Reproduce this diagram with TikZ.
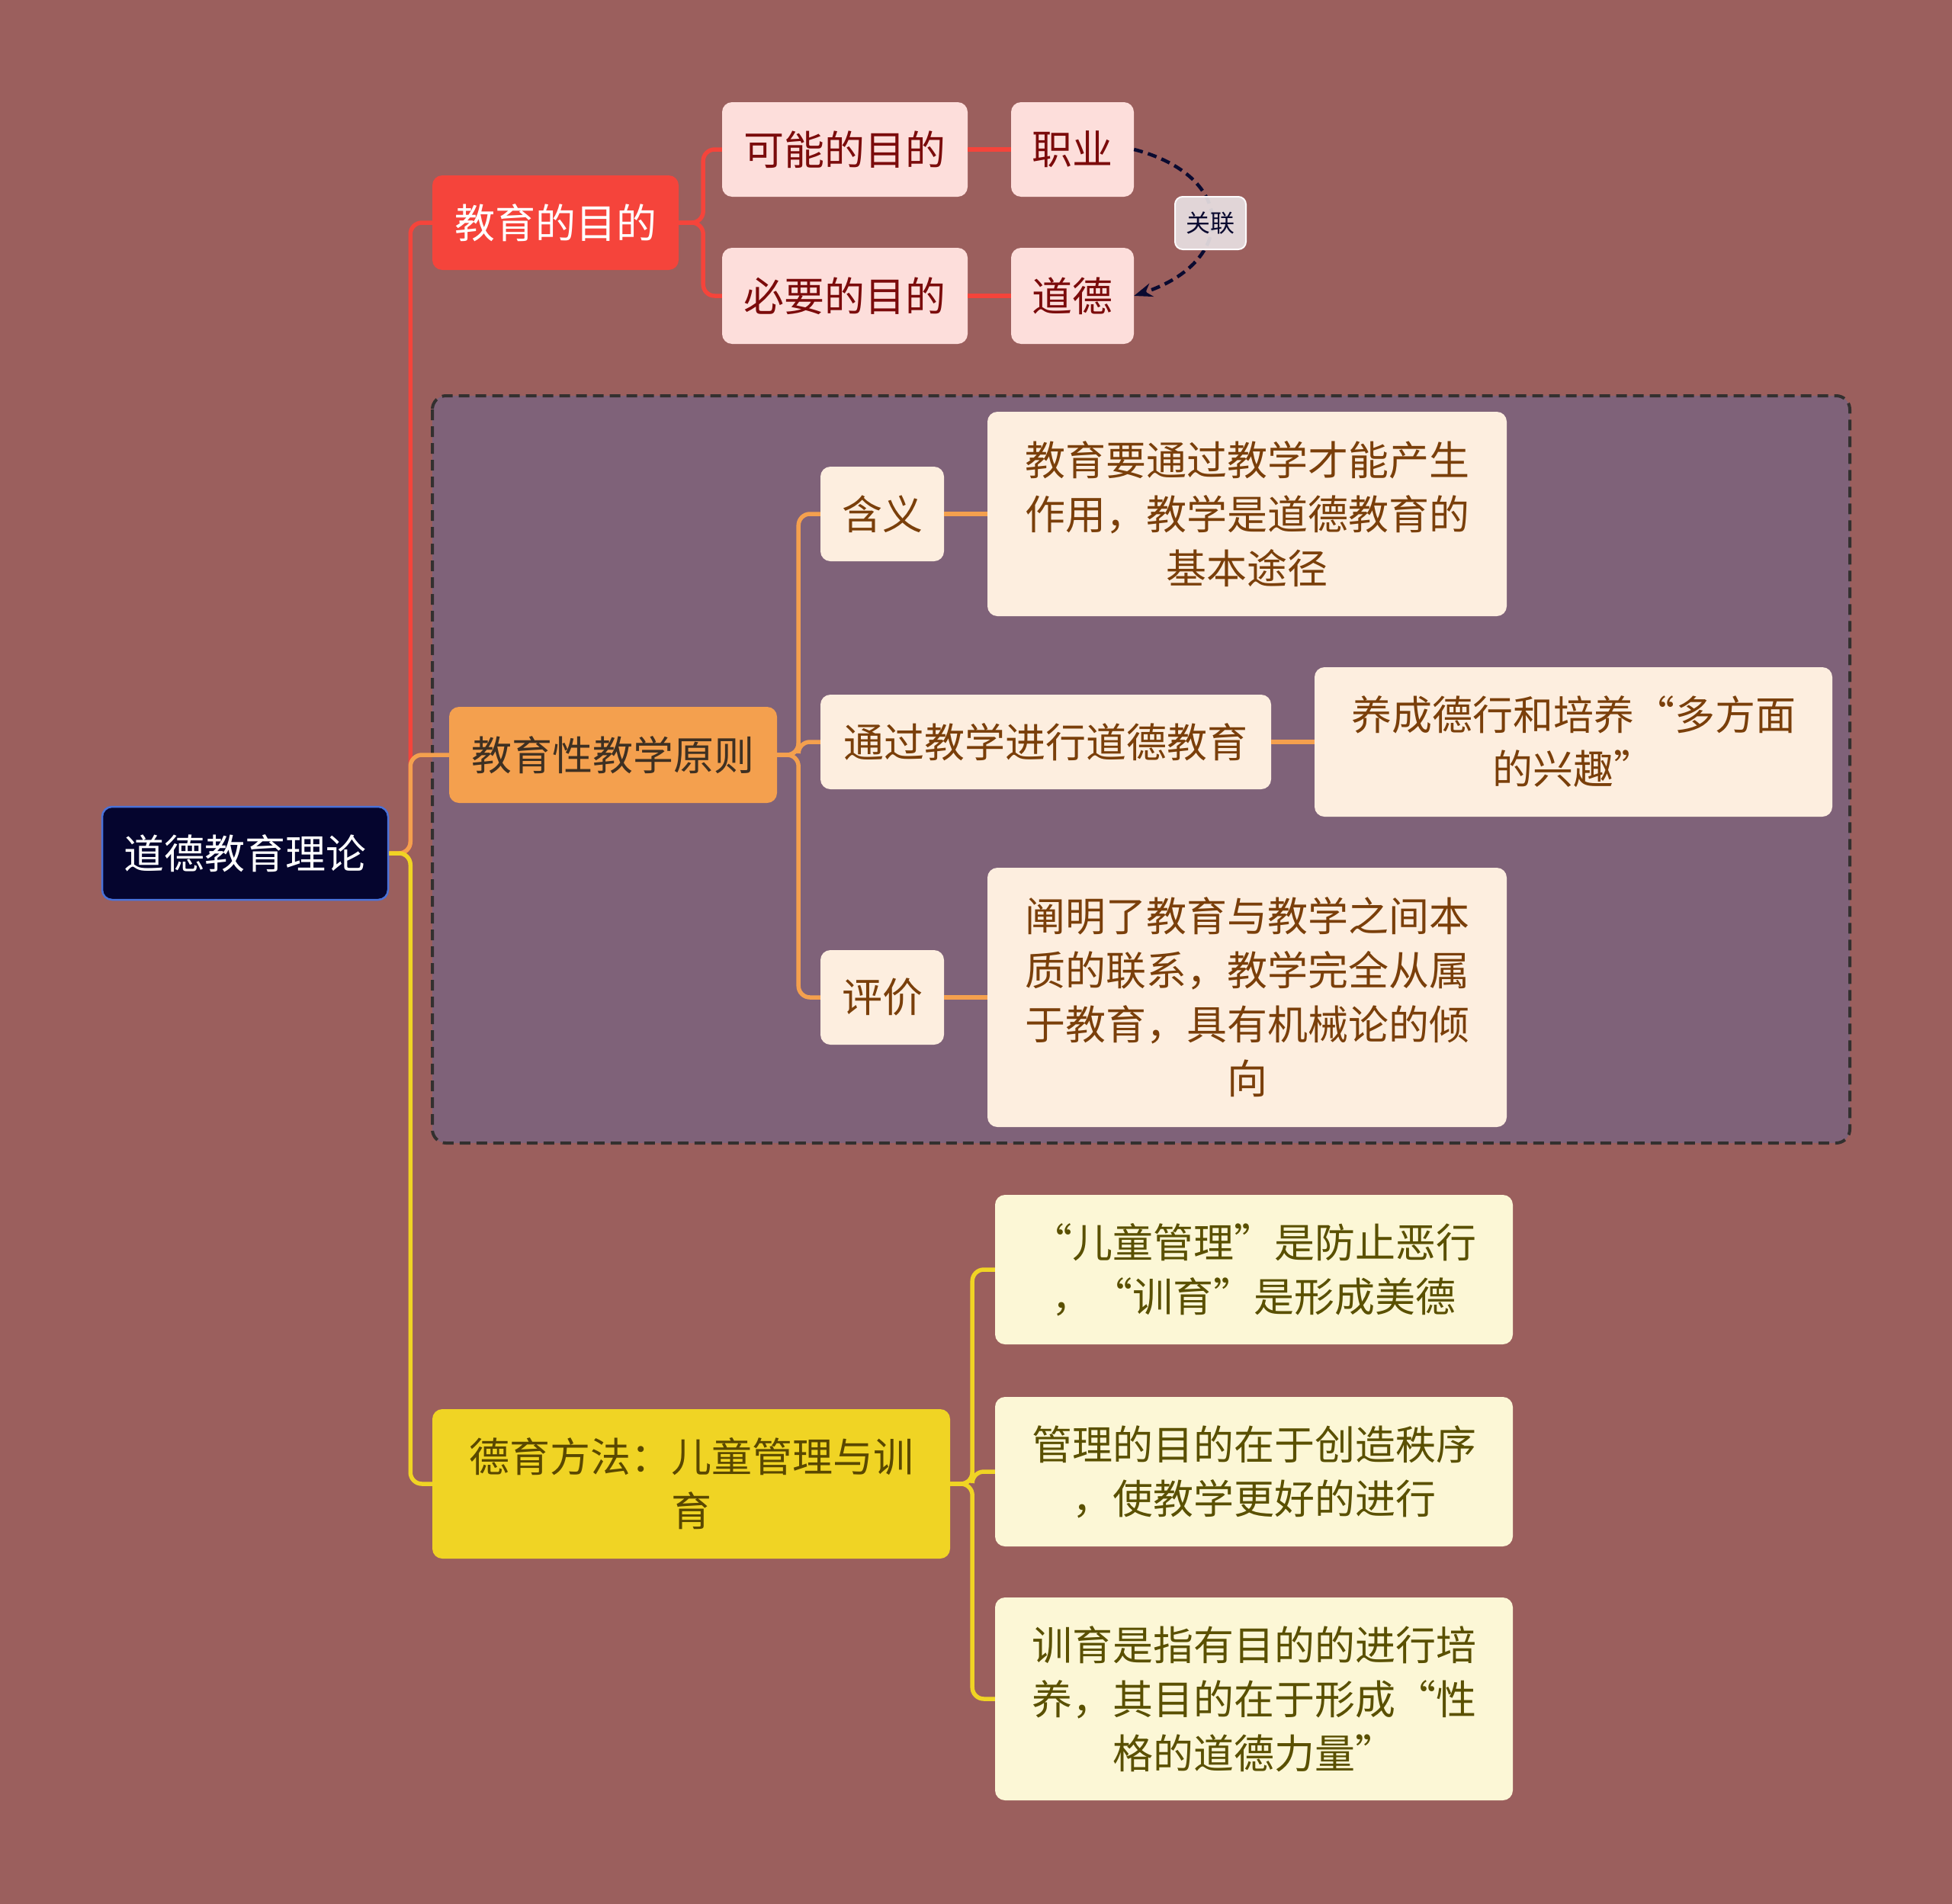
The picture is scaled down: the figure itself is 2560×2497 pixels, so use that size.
\documentclass[tikz,border=0pt]{standalone}
\usepackage{fontspec}
\setmainfont{Noto Sans CJK SC}
\usetikzlibrary{arrows.meta}
\definecolor{bg}{HTML}{9B5F5D}
\definecolor{grp}{HTML}{7F6279}
\definecolor{grpline}{HTML}{33302F}
\definecolor{rootfill}{HTML}{05052E}
\definecolor{rootline}{HTML}{4A72D9}
\definecolor{red1}{HTML}{F5443B}
\definecolor{pink1}{HTML}{FDDEDB}
\definecolor{redtext}{HTML}{7B0B0B}
\definecolor{orange1}{HTML}{F4A04E}
\definecolor{orangetext}{HTML}{3E3022}
\definecolor{cream1}{HTML}{FDEEDF}
\definecolor{browntext}{HTML}{7A3F0A}
\definecolor{yellow1}{HTML}{F0D424}
\definecolor{yellowtext}{HTML}{5A4800}
\definecolor{lyellow}{HTML}{FCF7D6}
\definecolor{olivetext}{HTML}{5A5000}
\definecolor{navy}{HTML}{0A0A30}
\definecolor{lblfill}{HTML}{E8E0E2}
\begin{document}
\begin{tikzpicture}[x=1pt,y=-1pt,
  sz/.style 2 args={minimum width=#1pt, minimum height=#2pt},
  box/.style={rounded corners=13pt, inner sep=0pt, align=center,
    font=\fontsize{53}{71}\selectfont},
  rootbox/.style={box, fill=rootfill, draw=rootline, line width=2.5pt, text=white},
  redbox/.style={box, fill=red1, text=white},
  pinkbox/.style={box, fill=pink1, text=redtext},
  orangebox/.style={box, fill=orange1, text=orangetext},
  creambox/.style={box, fill=cream1, text=browntext},
  yellowbox/.style={box, fill=yellow1, text=yellowtext},
  lyellowbox/.style={box, fill=lyellow, text=olivetext},
  conn/.style={line width=5.5pt, rounded corners=15pt},
  redconn/.style={conn, draw=red1},
  orangeconn/.style={conn, draw=orange1},
  yellowconn/.style={conn, draw=yellow1},
  relline/.style={draw=navy, line width=4.5pt, dash pattern=on 12pt off 7pt,
    -{Stealth[length=24pt,width=18pt]}},
  lbl/.style={rounded corners=10pt, fill=lblfill, fill opacity=0.92, text opacity=1,
    draw=white!85!lblfill, line width=2pt, text=navy, inner sep=0pt,
    font=\fontsize{32}{40}\selectfont}
]
\useasboundingbox (0,0) rectangle (2560,2497);
\fill[bg] (0,0) rectangle (2560,2497);

% group frame
\draw[fill=grp, draw=grpline, line width=4pt, dash pattern=on 14pt off 8pt, rounded corners=18pt]
  (567,519) rectangle (2426,1499);

% nodes
\node[rootbox, sz={375}{122}] (root) at (321.5,1119) {道德教育理论};

\node[redbox, sz={323}{124}] (goal) at (728.5,292) {教育的目的};
\node[pinkbox, sz={322}{124}] (poss) at (1108,196) {可能的目的};
\node[pinkbox, sz={161}{124}] (job) at (1406.5,196) {职业};
\node[pinkbox, sz={322}{126}] (nec) at (1108,388) {必要的目的};
\node[pinkbox, sz={161}{126}] (moral) at (1406.5,388) {道德};

\node[orangebox, sz={430}{126}] (prin) at (804,990) {教育性教学原则};
\node[creambox, sz={162}{124}] (mean) at (1157,674) {含义};
\node[creambox, sz={681}{268}] (meant) at (1635.5,674) {教育要通过教学才能产生\\作用，教学是道德教育的\\基本途径};
\node[creambox, sz={591}{124}] (via) at (1371.5,973) {通过教学进行道德教育};
\node[creambox, sz={679}{196}] (viat) at (2063.5,973) {养成德行和培养“多方面\\的兴趣”};
\node[creambox, sz={162}{124}] (eval) at (1157,1308) {评价};
\node[creambox, sz={681}{340}] (evalt) at (1635.5,1308) {阐明了教育与教学之间本\\质的联系，教学完全从属\\于教育，具有机械论的倾\\向};

\node[yellowbox, sz={679}{196}] (meth) at (906.5,1946) {德育方法：儿童管理与训\\育};
\node[lyellowbox, sz={679}{196}] (m1) at (1644.5,1665) {“儿童管理”是防止恶行\\，“训育”是形成美德};
\node[lyellowbox, sz={679}{196}] (m2) at (1644.5,1930) {管理的目的在于创造秩序\\，使教学更好的进行};
\node[lyellowbox, sz={679}{266}] (m3) at (1644.5,2228) {训育是指有目的的进行培\\养，其目的在于形成“性\\格的道德力量”};

% connectors from root
\draw[redconn] (root.east) -- ++(28,0) |- (goal.west);
\draw[orangeconn] (root.east) -- ++(28,0) |- (prin.west);
\draw[yellowconn] (root.east) -- ++(28,0) |- (meth.west);

% goal children
\draw[redconn] (goal.east) -- ++(32,0) |- (poss.west);
\draw[redconn] (goal.east) -- ++(32,0) |- (nec.west);
\draw[redconn] (poss.east) -- (job.west);
\draw[redconn] (nec.east) -- (moral.west);

% principle children
\draw[orangeconn] (prin.east) -- ++(28,0) |- (mean.west);
\draw[orangeconn] (prin.east) -- ++(28,0) |- (via.west);
\draw[orangeconn] (prin.east) -- ++(28,0) |- (eval.west);
\draw[orangeconn] (mean.east) -- (meant.west);
\draw[orangeconn] (via.east) -- (viat.west);
\draw[orangeconn] (eval.east) -- (evalt.west);

% method children
\draw[yellowconn] (meth.east) -- ++(29,0) |- (m1.west);
\draw[yellowconn] (meth.east) -- ++(29,0) |- (m2.west);
\draw[yellowconn] (meth.east) -- ++(29,0) |- (m3.west);

% relation
\draw[relline] (job.east) .. controls +(135,35) and +(135,-45) .. (moral.east);
\node[lbl, sz={93}{69}] (rel) at (1587.5,292.5) {关联};
\end{tikzpicture}
\end{document}
